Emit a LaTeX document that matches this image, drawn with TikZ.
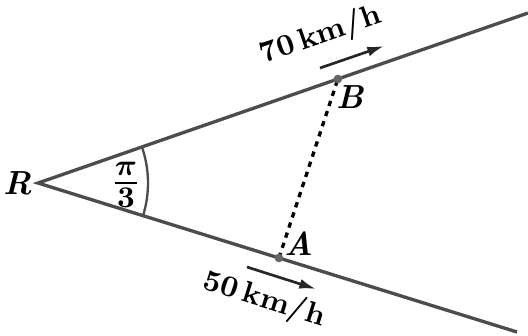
\documentclass[tikz,border=0pt]{standalone}
\usepackage{amsmath,amssymb}
\usetikzlibrary{arrows.meta,positioning,calc}

\begin{document}
\begin{tikzpicture}[x=0.3pt,y=-0.3pt,
    road/.style={line width=1pt, black!70},
    speed/.style={line width=0.8pt, black!85, -{Latex[length=5pt,width=3pt]}},
    lbl/.style={font=\bfseries\itshape},
    spd/.style={font=\fontsize{9}{10}\selectfont\bfseries, inner sep=1pt}]
    \useasboundingbox (0,0) rectangle (528,335);

    % Vertex and the two roads
    \coordinate (R) at (38,183);
    \coordinate (up) at (528,13);
    \coordinate (down) at (517,332);
    \draw[road] (up) -- (R) -- (down);
    \node[lbl] (r) at (18,183) {R};

    % Angle between the roads
    \draw[road, line width=0.7pt] (R) ++(19.1:33pt) arc[start angle=19.1, end angle=-17.3, radius=33pt];
    \node[font=\fontsize{13}{15}\selectfont\boldmath, inner sep=0pt] (ang) at (126,185) {$\frac{\pi}{3}$};

    % Positions A and B, joined by a dotted line
    \coordinate (B) at ($(R)!0.612!(up)$);
    \coordinate (A) at ($(R)!0.503!(down)$);
    \draw[line width=1pt, dash pattern=on 1.6pt off 1.6pt] (A) -- (B);
    \fill[black!60] (B) circle (1.3pt);
    \fill[black!60] (A) circle (1.3pt);
    \node[lbl] (b) at (350,97) {B};
    \node[lbl] (a) at (299,244) {A};

    % Speeds
    \coordinate (b1) at (320,68);
    \coordinate (b2) at (384,46);
    \draw[speed] (b1) -- (b2);
    \node[spd, rotate=19.1] (vb) at (321,36) {70\,km/h};
    \coordinate (a1) at (247,267);
    \coordinate (a2) at (316,289);
    \draw[speed] (a1) -- (a2);
    \node[spd, rotate=-17.3] (va) at (264,300) {50\,km/h};
\end{tikzpicture}
\end{document}
